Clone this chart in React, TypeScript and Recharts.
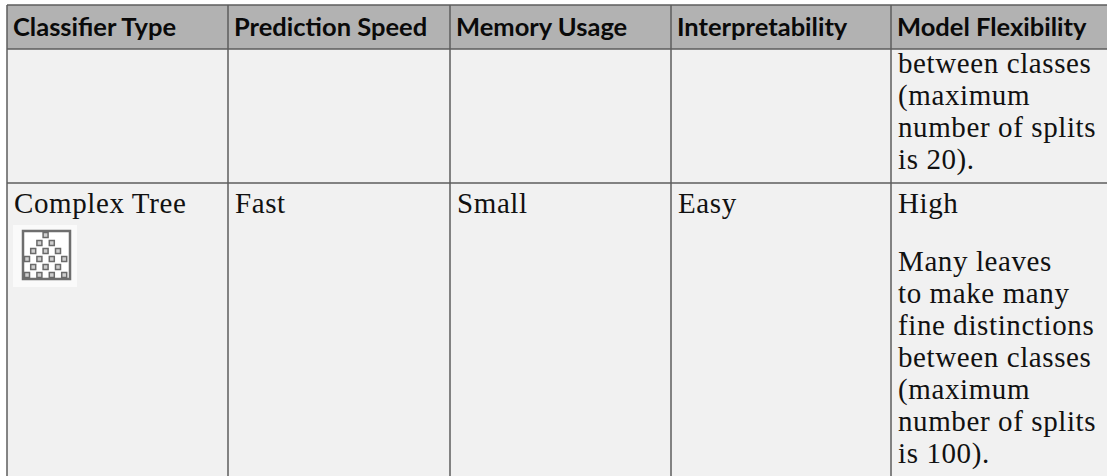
import { ComposedChart, XAxis, YAxis, Scatter, ReferenceArea, ReferenceLine } from 'recharts';

const WIDTH = 1107;
const HEIGHT = 476;

// table content
const headers = ['Classifier Type', 'Prediction Speed', 'Memory Usage', 'Interpretability', 'Model Flexibility'];
const upperFlexLines = ['between classes', '(maximum', 'number of splits', 'is 20).'];
const rowValues = ['Complex Tree', 'Fast', 'Small', 'Easy', 'High'];
const lowerFlexLines = ['Many leaves', 'to make many', 'fine distinctions', 'between classes', '(maximum', 'number of splits', 'is 100).'];

// tree icon nodes, [column, row] on the icon's own grid
const iconNodes = [
  [3, 0],
  [2, 1], [4, 1],
  [1, 2], [3, 2], [5, 2],
  [0, 3], [2, 3], [4, 3], [6, 3],
  [1, 4], [3, 4], [5, 4],
  [0, 5], [2, 5], [4, 5], [6, 5],
];

// table geometry
const colEdges = [7, 228, 450, 671, 891];
const headerBottom = 49;
const rowLine = 183;
const tableTop = 5;
const headerBaseline = 36;
const upperFirstBaseline = 73;
const lowerValueBaseline = 213;
const lowerFirstBaseline = 271;
const lineStep = 32;

const serif = '"Liberation Serif", "DejaVu Serif", serif';
const sans = 'Lato, "Noto Sans", sans-serif';

const headerPoints = headers.map((label, i) => ({ x: colEdges[i] + 6, y: headerBaseline, label }));
const valuePoints = rowValues.map((label, i) => ({ x: colEdges[i] + 7, y: lowerValueBaseline, label }));
const upperPoints = upperFlexLines.map((label, i) => ({ x: colEdges[4] + 7, y: upperFirstBaseline + i * lineStep, label }));
const lowerPoints = lowerFlexLines.map((label, i) => ({ x: colEdges[4] + 7, y: lowerFirstBaseline + i * lineStep, label }));
const nodePoints = iconNodes.map(([c, r]) => ({ x: 27 + c * 6.2, y: 235 + r * 8 }));

const HeaderLabel = ({ cx, cy, payload }: any) => (
  <text x={cx} y={cy} fontFamily={sans} fontWeight={700} fontSize={25.5} fill="#0a0a0a">
    {payload.label}
  </text>
);

const BodyLabel = ({ cx, cy, payload }: any) => (
  <text x={cx} y={cy} fontFamily={serif} fontSize={29} letterSpacing={0.6} fill="#111111">
    {payload.label}
  </text>
);

const IconNode = ({ cx, cy }: any) => (
  <rect x={cx - 2.5} y={cy - 2.5} width={5} height={5} fill="#cfcfcf" stroke="#6a6a6a" strokeWidth={1.5} />
);

export default function App() {
  return (
    <div style={{ position: 'absolute', left: 0, top: 0, width: WIDTH, height: HEIGHT, background: '#ffffff' }}>
      <ComposedChart width={WIDTH} height={HEIGHT} margin={{ top: 0, right: 0, bottom: 0, left: 0 }}>
        <XAxis type="number" dataKey="x" domain={[0, WIDTH]} hide />
        <YAxis type="number" dataKey="y" domain={[0, HEIGHT]} reversed hide />

        <ReferenceArea x1={colEdges[0]} x2={WIDTH} y1={tableTop} y2={headerBottom} fill="#b2b2b2" fillOpacity={1} stroke="none" />
        <ReferenceArea x1={colEdges[0]} x2={WIDTH} y1={headerBottom} y2={HEIGHT} fill="#f1f1f1" fillOpacity={1} stroke="none" />
        <ReferenceArea x1={13} x2={77} y1={225} y2={287} fill="#fafafa" fillOpacity={1} stroke="none" />
        <ReferenceArea x1={23} x2={70} y1={231} y2={279} fill="#ffffff" fillOpacity={1} stroke="#6e6e6e" strokeWidth={2.5} />

        <ReferenceLine segment={[{ x: colEdges[0], y: tableTop }, { x: WIDTH, y: tableTop }]} stroke="#5c5c5c" strokeWidth={1.5} />
        <ReferenceLine segment={[{ x: colEdges[0], y: headerBottom }, { x: WIDTH, y: headerBottom }]} stroke="#5c5c5c" strokeWidth={1.5} />
        <ReferenceLine segment={[{ x: colEdges[0], y: rowLine }, { x: WIDTH, y: rowLine }]} stroke="#5c5c5c" strokeWidth={1.5} />
        {colEdges.map((x) => (
          <ReferenceLine key={x} segment={[{ x, y: tableTop }, { x, y: HEIGHT }]} stroke="#5c5c5c" strokeWidth={1.5} />
        ))}

        <Scatter data={nodePoints} shape={<IconNode />} isAnimationActive={false} />
        <Scatter data={headerPoints} shape={<HeaderLabel />} isAnimationActive={false} />
        <Scatter data={valuePoints} shape={<BodyLabel />} isAnimationActive={false} />
        <Scatter data={upperPoints} shape={<BodyLabel />} isAnimationActive={false} />
        <Scatter data={lowerPoints} shape={<BodyLabel />} isAnimationActive={false} />
      </ComposedChart>
    </div>
  );
}
